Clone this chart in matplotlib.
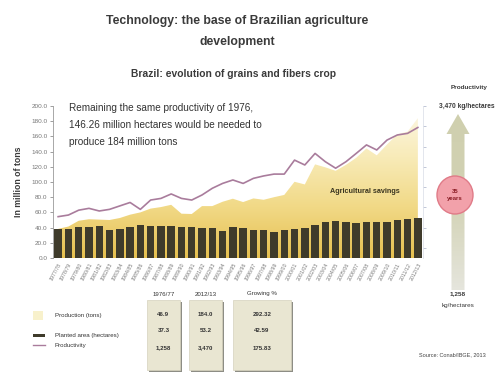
import numpy as np
import matplotlib
matplotlib.use('Agg')
import matplotlib.pyplot as plt
from matplotlib.colors import LinearSegmentedColormap
from matplotlib.patches import Polygon, Rectangle, Ellipse, FancyArrow

plt.rcParams['font.family'] = ['Liberation Sans', 'DejaVu Sans']

seasons = ['%d/%02d' % (y, (y + 1) % 100) for y in range(1977, 2013)]

# million tons
production = [38.3, 41.4, 49.0, 51.0, 50.5, 50.0, 52.6, 57.0, 60.0, 65.0,
              67.0, 70.0, 58.3, 57.9, 68.3, 68.3, 74.0, 78.0, 73.6, 78.4,
              76.6, 80.0, 83.0, 100.3, 96.8, 123.2, 119.3, 114.7, 122.5, 131.8,
              144.1, 135.1, 149.3, 162.8, 166.2, 184.0]

# million hectares
planted_area = [37.7, 37.7, 41.0, 41.0, 41.5, 37.5, 37.7, 40.2, 43.0, 41.5,
                42.6, 41.8, 41.2, 40.4, 39.0, 39.0, 35.9, 40.4, 39.0, 36.8,
                36.8, 34.6, 36.8, 37.6, 40.0, 43.7, 47.2, 49.1, 47.7, 46.5,
                47.0, 47.4, 47.2, 49.4, 50.7, 53.2]

# kg/hectare
productivity = [1270, 1310, 1430, 1475, 1410, 1450, 1535, 1620, 1450, 1680,
                1720, 1830, 1720, 1680, 1805, 1970, 2090, 2175, 2090, 2215,
                2275, 2320, 2320, 2665, 2545, 2830, 2625, 2465, 2625, 2830,
                3040, 2915, 3160, 3285, 3325, 3470]

table_cols = ['1976/77', '2012/13', 'Growing %']
table_vals = [['46.9', '37.3', '1,258'],
              ['184.0', '53.2', '3,470'],
              ['292.32', '42.59', '175.83']]

bar_color = '#3f3b2b'
line_color = '#a97c9c'
text_color = '#3a3a3a'

fig = plt.figure(figsize=(5.03, 3.73), dpi=100)
ax = fig.add_axes([53 / 503, 1 - 258 / 373, 370 / 503, 152 / 373])
n = len(seasons)
x = np.arange(n)

# production area with a vertical yellow gradient
prod_cmap = LinearSegmentedColormap.from_list(
    'prod', ['#e6c050', '#f1d986', '#f8ebb8', '#fdf8e8'])
grad = np.linspace(0, 1, 256).reshape(-1, 1)
im = ax.imshow(grad, extent=[-0.5, n - 0.5, 0, 200], origin='lower',
               aspect='auto', cmap=prod_cmap, zorder=1)
verts = np.column_stack([np.r_[x, x[::-1]],
                         np.r_[production, np.zeros(n)]])
clip = Polygon(verts, closed=True, facecolor='none', edgecolor='none')
ax.add_patch(clip)
im.set_clip_path(clip)

ax.bar(x, planted_area, width=0.72, color=bar_color, zorder=2)

ax.set_xlim(-0.5, n - 0.5)
ax.set_ylim(0, 200)
ax.set_yticks(np.arange(0, 201, 20))
ax.set_yticklabels(['%.1f' % v for v in np.arange(0, 201, 20)])
ax.set_xticks(x)
ax.set_xticklabels(seasons, rotation=62, ha='right', rotation_mode='anchor')
ax.tick_params(axis='y', labelsize=4.6, colors='#777777', length=2, width=0.5, pad=2)
ax.tick_params(axis='x', labelsize=3.8, colors='#7a7a7a', length=0, pad=3)
for s in ['top', 'right', 'bottom']:
    ax.spines[s].set_visible(False)
ax.spines['left'].set_color('#9a9a9a')
ax.spines['left'].set_linewidth(0.6)
ax.set_ylabel('In million of tons', fontsize=6.3, fontweight='bold',
              color=text_color, labelpad=6)

ax.text(29.8, 87, 'Agricultural savings', fontsize=5.2, fontweight='bold',
        color='#3a3520', ha='center', va='center', zorder=4)

# productivity on its own scale
ax2 = ax.twinx()
ax2.plot(x, productivity, color=line_color, lw=1.2, zorder=5)
ax2.set_ylim(250, 4000)
ax2.set_yticks(np.arange(500, 4001, 500))
ax2.set_yticklabels([])
ax2.tick_params(axis='y', length=2, width=0.5, colors='#a8b0c8')
for s in ['top', 'left', 'bottom']:
    ax2.spines[s].set_visible(False)
ax2.spines['right'].set_color('#d8dce6')
ax2.spines['right'].set_linewidth(0.5)

# headings, notes, legend and summary table
deco = fig.add_axes([0, 0, 1, 1], zorder=10)
deco.set_xlim(0, 503)
deco.set_ylim(373, 0)
deco.axis('off')
deco.patch.set_alpha(0)

deco.text(237, 21, 'Technology: the base of Brazilian agriculture',
          fontsize=8.8, fontweight='bold', color=text_color, ha='center', va='center')
deco.text(237, 42, 'development', fontsize=8.8, fontweight='bold',
          color=text_color, ha='center', va='center')
deco.text(234, 74, 'Brazil: evolution of grains and fibers crop', fontsize=7.4,
          fontweight='bold', color=text_color, ha='center', va='center')

note = ['Remaining the same productivity of 1976,',
        '146.26 million hectares would be needed to',
        'produce 184 million tons']
for i, line in enumerate(note):
    deco.text(69, 108 + 16.8 * i, line, fontsize=7.2, color='#333333',
              ha='left', va='center')

# productivity arrow
arrow = FancyArrow(458, 290, 0, -176, width=13, head_width=23, head_length=20,
                   length_includes_head=True, facecolor='none', edgecolor='none')
deco.add_patch(arrow)
arrow_cmap = LinearSegmentedColormap.from_list('arr', ['#e6e6de', '#d2d2b4', '#cfcfae'])
aim = deco.imshow(grad, extent=[440, 476, 292, 112], origin='lower',
                  aspect='auto', cmap=arrow_cmap, zorder=1)
aim.set_clip_path(arrow)
deco.add_patch(Ellipse((455, 195), 36, 38, facecolor='#f2a1aa',
                       edgecolor='#e07b88', lw=1, zorder=3))
deco.text(455, 195, '35\nyears', fontsize=4.3, fontweight='bold', color='#8a1c24',
          ha='center', va='center', linespacing=1.6, zorder=4)
deco.text(469, 87, 'Productivity', fontsize=4.6, fontweight='bold',
          color=text_color, ha='center', va='center')
deco.text(467, 107, '3,470 kg/hectares', fontsize=4.8, fontweight='bold',
          color=text_color, ha='center', va='center')
deco.text(458, 294, '1,258', fontsize=4.6, fontweight='bold',
          color=text_color, ha='center', va='center')
deco.text(458, 305, 'kg/hectares', fontsize=4.6, color=text_color,
          ha='center', va='center')
deco.text(452, 355, 'Source: Conab/IBGE, 2013', fontsize=4.0, color='#444444',
          ha='center', va='center')

# legend
deco.add_patch(Rectangle((33, 311), 10, 9, facecolor='#f8f1cc', edgecolor='none'))
deco.add_patch(Rectangle((33, 333.5), 12, 3.5, facecolor=bar_color, edgecolor='none'))
deco.plot([33, 45], [345, 345], color=line_color, lw=1)
for label, yy in [('Production (tons)', 316), ('Planted area (hectares)', 335.5),
                  ('Productivity', 345)]:
    deco.text(55, yy, label, fontsize=4.4, color='#333333', ha='left', va='center')

# summary table boxes
boxes = [(147, 33), (189, 33), (233, 58)]
for (bx, bw), head, vals in zip(boxes, table_cols, table_vals):
    deco.add_patch(Rectangle((bx + 2.5, 302), bw, 70, facecolor='#8d8d85',
                             edgecolor='none', zorder=1))
    deco.add_patch(Rectangle((bx, 300), bw, 70, facecolor='#e9e6d2',
                             edgecolor='#d6d2bd', lw=0.5, zorder=2))
    cx = bx + bw / 2
    deco.text(cx, 294, head, fontsize=4.4, color='#333333', ha='center', va='center')
    for v, yy in zip(vals, [314.5, 331, 348]):
        deco.text(cx, yy, v, fontsize=4.4, fontweight='bold', color='#333333',
                  ha='center', va='center', zorder=3)

fig.savefig('out.png', dpi=100)
